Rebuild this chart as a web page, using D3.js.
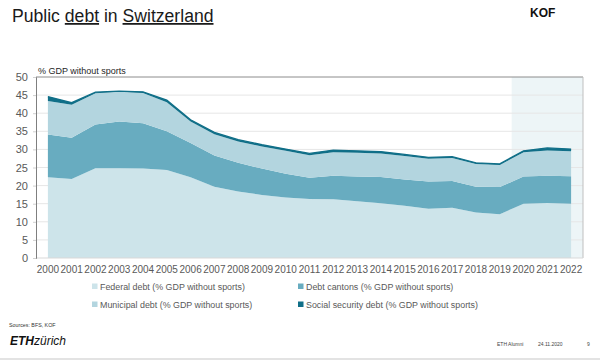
<!DOCTYPE html>
<html>
<head>
<meta charset="utf-8">
<script src="https://cdn.jsdelivr.net/npm/d3@7"></script>
<style>
  body { margin: 0; background: #fff; }
  text { font-family: "Liberation Sans", Arial, sans-serif; }
</style>
</head>
<body>
<svg width="600" height="362"></svg>
<script>
// values, % of GDP
var years = d3.range(2000, 2023);
var federal   = [22.3, 21.8, 24.8, 24.8, 24.7, 24.3, 22.3, 19.7, 18.4, 17.4, 16.7, 16.3, 16.2, 15.7, 15.1, 14.4, 13.6, 13.9, 12.6, 12.1, 15.0, 15.2, 15.0];
var cantons   = [11.8, 11.4, 12.1, 12.9, 12.5, 10.7, 9.5, 8.6, 7.9, 7.3, 6.6, 5.9, 6.5, 6.8, 7.3, 7.3, 7.5, 7.4, 7.1, 7.5, 7.5, 7.5, 7.6];
var municipal = [9.3, 9.1, 8.6, 8.2, 8.4, 8.0, 5.9, 5.9, 5.9, 6.1, 6.3, 6.2, 6.5, 6.6, 6.5, 6.5, 6.3, 6.3, 6.3, 6.1, 6.7, 7.0, 6.9];
var social    = [1.2, 0.6, 0.3, 0.2, 0.3, 0.6, 0.5, 0.5, 0.5, 0.5, 0.5, 0.5, 0.6, 0.5, 0.5, 0.4, 0.4, 0.4, 0.3, 0.3, 0.4, 0.7, 0.6];
var yTicks = [0, 5, 10, 15, 20, 25, 30, 35, 40, 45, 50];
var forecastFrom = 2020;

var keys = ["federal", "cantons", "municipal", "social"];
var labels = {
  federal: "Federal debt (% GDP without sports)",
  cantons: "Debt cantons (% GDP without sports)",
  municipal: "Municipal debt (% GDP without sports)",
  social: "Social security debt (% GDP without sports)"
};
var colors = { federal: "#cde4ea", cantons: "#68acc0", municipal: "#b3d5df", social: "#106f88" };

var rows = years.map(function(y, i) {
  return { year: y, federal: federal[i], cantons: cantons[i], municipal: municipal[i], social: social[i] };
});

var svg = d3.select("svg");
var margin = { top: 77, right: 17, bottom: 104, left: 36 };
var width = 600 - margin.left - margin.right;
var height = 362 - margin.top - margin.bottom;

var g = svg.append("g").attr("transform", "translate(" + margin.left + "," + margin.top + ")");

var x = d3.scaleBand().domain(years).range([0, width]);
var xc = function(yr) { return x(yr) + x.bandwidth() / 2; };
var y = d3.scaleLinear().domain([0, 50]).range([height, 0]);

// forecast shading
g.append("rect")
    .attr("x", x(forecastFrom))
    .attr("y", 0)
    .attr("width", width - x(forecastFrom))
    .attr("height", height)
    .attr("fill", "#edf5f7");

// gridlines
g.append("g")
    .selectAll("line")
    .data(yTicks.filter(function(d) { return d > 0 && d < 50; }))
    .enter().append("line")
    .attr("x1", 0).attr("x2", width)
    .attr("y1", function(d) { return y(d); })
    .attr("y2", function(d) { return y(d); })
    .attr("stroke", "#e6e6e6")
    .attr("stroke-width", 1);

var stack = d3.stack().keys(keys);
var series = stack(rows);

var area = d3.area()
    .x(function(d) { return xc(d.data.year); })
    .y0(function(d) { return y(d[0]); })
    .y1(function(d) { return y(d[1]); });

g.selectAll(".layer")
    .data(series)
    .enter().append("path")
    .attr("class", "layer")
    .attr("d", area)
    .attr("fill", function(d) { return colors[d.key]; });

// dark edge on top of the stack
var topLine = d3.line()
    .x(function(d) { return xc(d.data.year); })
    .y(function(d) { return y(d[1]); });
g.append("path")
    .datum(series[series.length - 1])
    .attr("d", topLine)
    .attr("fill", "none")
    .attr("stroke", colors.social)
    .attr("stroke-width", 1.3);

// frame
g.append("line").attr("x1", 0).attr("x2", width).attr("y1", 0).attr("y2", 0)
    .attr("stroke", "#8c8c8c").attr("stroke-width", 1);
g.append("line").attr("x1", width).attr("x2", width).attr("y1", 0).attr("y2", height)
    .attr("stroke", "#bfbfbf").attr("stroke-width", 1);
g.append("line").attr("x1", 0).attr("x2", width).attr("y1", height).attr("y2", height)
    .attr("stroke", "#d9d9d9").attr("stroke-width", 1);

var yAxis = g.append("g")
    .call(d3.axisLeft(y).tickValues(yTicks).tickSize(3).tickPadding(5));
yAxis.select(".domain").attr("stroke", "#7f7f7f");
yAxis.selectAll(".tick line").attr("stroke", "#d0d0d0");
yAxis.selectAll("text").attr("fill", "#595959").style("font-size", "11px")
    .style("font-family", "'Liberation Sans', Arial, sans-serif");

var xAxis = g.append("g")
    .attr("transform", "translate(0," + height + ")")
    .call(d3.axisBottom(x).tickSize(0).tickPadding(8));
xAxis.select(".domain").remove();
xAxis.selectAll("text").attr("fill", "#595959").style("font-size", "10px")
    .style("font-family", "'Liberation Sans', Arial, sans-serif");

g.append("text")
    .attr("x", 2).attr("y", -3)
    .attr("fill", "#262626")
    .style("font-size", "9px")
    .text("% GDP without sports");

// legend
var legendPos = [
  { key: "federal", x: 92, y: 290 },
  { key: "cantons", x: 298, y: 290 },
  { key: "municipal", x: 92, y: 308 },
  { key: "social", x: 298, y: 308 }
];
var lg = svg.append("g").selectAll("g").data(legendPos).enter().append("g")
    .attr("transform", function(d) { return "translate(" + d.x + "," + d.y + ")"; });
lg.append("rect").attr("x", 0).attr("y", -6.5).attr("width", 5.5).attr("height", 5.5)
    .attr("fill", function(d) { return colors[d.key]; });
lg.append("text").attr("x", 8).attr("y", 0)
    .attr("fill", "#595959").style("font-size", "8.9px")
    .text(function(d) { return labels[d.key]; });

// title and slide decoration
var title = svg.append("text").attr("x", 12).attr("y", 22)
    .attr("fill", "#1a1a1a").style("font-size", "17.6px");
title.append("tspan").text("Public ");
title.append("tspan").text("debt").style("text-decoration", "underline");
title.append("tspan").text(" in ");
title.append("tspan").text("Switzerland").style("text-decoration", "underline");

svg.append("text").attr("x", 530).attr("y", 17)
    .attr("fill", "#111").style("font-size", "12px").style("font-weight", "bold")
    .text("KOF");

svg.append("text").attr("x", 9).attr("y", 327)
    .attr("fill", "#333").style("font-size", "5.3px")
    .text("Sources: BFS, KOF");

var logo = svg.append("text").attr("x", 10).attr("y", 345)
    .attr("fill", "#111").style("font-size", "12px").style("font-style", "italic");
logo.append("tspan").text("ETH").style("font-weight", "bold");
logo.append("tspan").text("zürich");

var foot = svg.append("g").style("font-size", "5px").attr("fill", "#444");
foot.append("text").attr("x", 497).attr("y", 346).text("ETH Alumni");
foot.append("text").attr("x", 538).attr("y", 346).text("24.11.2020");
foot.append("text").attr("x", 587).attr("y", 346).text("9");

svg.append("rect").attr("x", 0).attr("y", 358).attr("width", 600).attr("height", 2)
    .attr("fill", "#e3e3e3");
</script>
</body>
</html>
